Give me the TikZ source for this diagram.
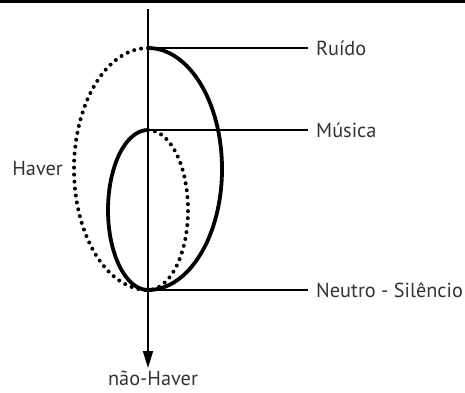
\documentclass[tikz,border=0pt]{standalone}
\usepackage{fontspec}
\setmainfont{PT Sans}
\usepackage{tikz}
\usetikzlibrary{arrows.meta, positioning}

\begin{document}
\begin{tikzpicture}[
  x=1pt, y=-1pt,
  axisline/.style={line width=1.8pt, -{Triangle[length=17pt, width=10pt]}},
  guide/.style={line width=1.8pt},
  solidcurve/.style={line width=3.8pt},
  dotcurve/.style={line width=4pt, line cap=round, dash pattern=on 0pt off 7pt},
  label/.style={font=\fontsize{20.3}{23}\selectfont, text=black!80, inner sep=0pt},
]
\useasboundingbox (0,0) rectangle (465,392);

% Top rule
\fill[black] (0,0) rectangle (465,2.5);

% Axis
\coordinate (top) at (148,9);
\node[label, anchor=north] (nothaver) at (153,371) {não-Haver};
\draw[axisline] (top) -- (148,368) coordinate (tip);

% Levels on the axis
\coordinate (ruido-a) at (148,48);
\coordinate (musica-a) at (148,130);
\coordinate (neutro-a) at (148,290);

% Labels
\node[label, anchor=west] (ruido) at (316,48) {Ruído};
\node[label, anchor=west] (musica) at (316,130) {Música};
\node[label, anchor=west] (neutro) at (316,290) {Neutro - Silêncio};
\node[label, anchor=east] (haver) at (63,169) {Haver};

\draw[guide] (ruido-a) -- ([xshift=-8pt]ruido.west);
\draw[guide] (musica-a) -- ([xshift=-8pt]musica.west);
\draw[guide] (neutro-a) -- ([xshift=-8pt]neutro.west);

% Outer ellipse: Ruido to Neutro
\draw[solidcurve] (ruido-a) arc[start angle=90, end angle=-90, x radius=74, y radius=-121];
\draw[dotcurve] (ruido-a) arc[start angle=90, end angle=270, x radius=74, y radius=-121];

% Inner ellipse: Musica to Neutro
\draw[solidcurve] (musica-a) arc[start angle=90, end angle=270, x radius=40, y radius=-80];
\draw[dotcurve] (musica-a) arc[start angle=90, end angle=-90, x radius=40, y radius=-80];

\end{tikzpicture}
\end{document}
